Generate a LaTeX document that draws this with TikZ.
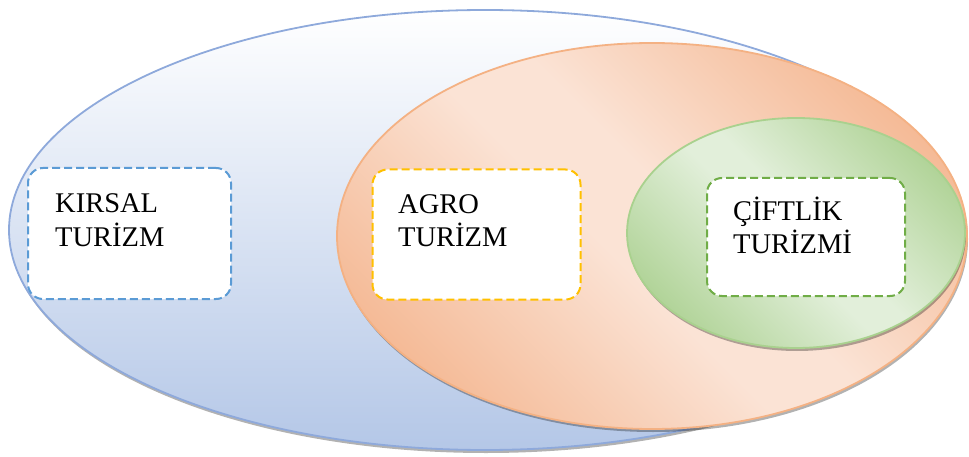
\documentclass[tikz,border=0pt]{standalone}
\usepackage{fontspec}
\setmainfont{Liberation Serif}
\usetikzlibrary{shapes.geometric,shadows}
\definecolor{blueline}{HTML}{8EA9DB}
\definecolor{bluefill}{HTML}{B4C7E7}
\definecolor{orangeline}{HTML}{F4B183}
\definecolor{orangedark}{HTML}{F4B690}
\definecolor{orangelight}{HTML}{FBE3D5}
\definecolor{greenline}{HTML}{A9D18E}
\definecolor{greendark}{HTML}{B0D397}
\definecolor{greenlight}{HTML}{E2EFDA}
\definecolor{dblue}{HTML}{5B9BD5}
\definecolor{dgold}{HTML}{FFC000}
\definecolor{dgreen}{HTML}{70AD47}
\pgfdeclareverticalshading{orangeshade}{100bp}{color(0bp)=(orangedark); color(22bp)=(orangedark); color(46bp)=(orangelight); color(54bp)=(orangelight); color(78bp)=(orangedark); color(100bp)=(orangedark)}
\pgfdeclareverticalshading{greenshade}{100bp}{color(0bp)=(greendark); color(24bp)=(greendark); color(47bp)=(greenlight); color(53bp)=(greenlight); color(76bp)=(greendark); color(100bp)=(greendark)}
\tikzset{
  ell/.style={ellipse, inner sep=0pt, line width=1.8pt,
    drop shadow={shadow xshift=1pt, shadow yshift=-3pt, fill=black, opacity=0.3}},
  box/.style={rounded corners=15pt, dash pattern=on 8pt off 4pt, line width=2pt, fill=white, inner sep=0pt},
  lbl/.style={anchor=base west, align=left, font=\fontsize{28.5}{33}\selectfont, inner sep=0pt},
}
\begin{document}
\begin{tikzpicture}[x=1pt,y=-1pt]
\useasboundingbox (0,0) rectangle (969,457);
% ellipses
\node[ell, draw=blueline, top color=white, bottom color=bluefill,
      minimum width=952pt, minimum height=440pt] (rural) at (485,230) {};
\node[ell, draw=orangeline, shading=orangeshade, shading angle=-45,
      minimum width=630pt, minimum height=386pt] (agro) at (652,236) {};
\node[ell, draw=greenline, shading=greenshade, shading angle=-45,
      minimum width=338pt, minimum height=230pt] (farm) at (796,233) {};
% boxes
\node[box, draw=dblue, minimum width=203pt, minimum height=131pt] (kbox) at (129.5,233.5) {};
\node[box, draw=dgold, minimum width=208pt, minimum height=130pt] (abox) at (476.5,234.5) {};
\node[box, draw=dgreen, minimum width=198pt, minimum height=118pt] (cbox) at (806,237) {};
% labels (anchor = baseline of the last line)
\node[lbl] (ktext) at (55,246) {KIRSAL\\TURİZM};
\node[lbl] (atext) at (398,247) {AGRO\\TURİZM};
\node[lbl] (ctext) at (733,254) {ÇİFTLİK\\TURİZMİ};
\end{tikzpicture}
\end{document}
